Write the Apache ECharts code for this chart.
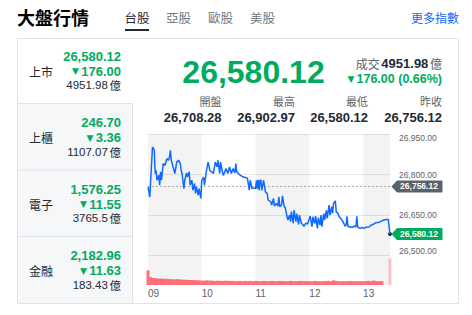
<!DOCTYPE html>
<html><head><meta charset="utf-8">
<script src="https://cdn.jsdelivr.net/npm/echarts@6/dist/echarts.min.js"></script>
<style>html,body{margin:0;padding:0;background:#fff;}#c{width:472px;height:315px;}</style>
</head><body><div id="c"></div>
<script>
// ---- data ----
const title = '大盤行情';
const tabs = ['台股','亞股','歐股','美股'];
const moreLink = '更多指數';
const markets = ['上市','上櫃','電子','金融'];
const marketPrice = ['26,580.12','246.70','1,576.25','2,182.96'];
const marketChange = ['176.00','3.36','11.55','11.63'];
const marketVolume = ['4951.98','1107.07','3765.5','183.43'];
const mainPrice = '26,580.12';
const mainVolume = '4951.98';
const mainChange = '176.00 (0.66%)';
const statLabels = ['開盤','最高','最低','昨收'];
const statValues = ['26,708.28','26,902.97','26,580.12','26,756.12'];
const prevClose = 26756.12;
const lastPrice = 26580.12;
const xTickLabels = ['09','10','11','12','13'];

// minutes after 09:00
const priceTimes = [0,2,3,5,7,8,9,10,12,13,14,15,17,19,21,23,24,25,26,28,30,32,34,36,37,38,40,41,43,44,46,47,49,50,52,53,54,56,57,59,60,62,63,65,67,69,71,73,75,77,78,80,81,83,84,87,89,91,93,95,97,98,99,102,106,110,111,113,114,116,118,120,121,122,123,124,125,126,127,129,131,133,134,137,138,140,141,143,145,146,147,149,150,152,153,154,156,158,159,160,162,163,165,166,168,169,171,173,174,176,178,181,183,184,186,187,189,190,192,193,194,196,197,199,200,202,203,205,206,207,209,210,212,213,216,218,220,221,222,223,226,228,230,232,233,234,237,239,241,243,247,249,252,254,258,261,265,268,270];
const priceValues = [26754,26717,26779,26902,26890,26804,26816,26779,26797,26761,26810,26779,26841,26834,26859,26853,26865,26890,26853,26828,26804,26846,26853,26841,26816,26804,26748,26779,26806,26791,26810,26761,26779,26742,26767,26730,26754,26724,26748,26712,26779,26791,26761,26810,26846,26816,26810,26804,26846,26828,26853,26804,26846,26810,26797,26822,26804,26828,26804,26822,26806,26841,26810,26800,26791,26788,26785,26742,26779,26748,26751,26748,26779,26748,26781,26742,26779,26779,26742,26779,26736,26730,26706,26699,26687,26712,26684,26693,26684,26718,26681,26687,26721,26681,26679,26663,26632,26650,26626,26663,26620,26669,26626,26656,26616,26650,26620,26614,26608,26620,26617,26646,26607,26644,26619,26646,26601,26641,26613,26650,26607,26656,26632,26668,26638,26687,26650,26681,26656,26693,26703,26662,26656,26646,26634,26622,26609,26613,26646,26609,26605,26605,26609,26607,26646,26605,26601,26605,26601,26605,26607,26613,26617,26622,26624,26629,26634,26634,26580.12];

const volTimes = [0,3,6,9,12,15,18,21,24,27,30,33,36,39,42,45,48,51,54,57,60,63,66,69,72,75,78,81,84,87,90,93,96,99,102,105,108,111,114,117,120,123,126,129,132,135,138,141,144,147,150,153,156,159,162,165,168,171,174,177,180,183,186,189,192,195,198,201,204,207,210,213,216,219,222,225,228,231,234,237,240,243,246,249,252,255,258,261,270];
const volValues = [50,27,24,23,22,22,21,21,20,20,19,20,19,18,18,17,17,17,16,16,15,15,16,15,15,14,15,14,14,15,14,14,14,13,14,13,14,13,14,13,14,13,13,14,13,13,14,13,13,14,13,13,13,14,13,13,13,14,13,13,13,13,14,13,13,13,13,14,13,16,14,13,13,13,13,14,13,13,13,13,13,13,14,13,15,13,13,13,90];

// ---- styles ----
const GREEN = '#00ab5e', DARK = '#232a31', GRAY = '#5b636a', LGRAY = '#6e7780', BLUE = '#0f69ff', BORDER = '#e0e4e9';
const NUM = '"Liberation Sans", Arial, "Noto Sans CJK TC", sans-serif';
const CJK = '"Noto Sans CJK TC", "Liberation Sans", sans-serif';

const el = [];
function txt(x, y, text, fill, size, weight, align, family, extra) {
  el.push(Object.assign({type:'text', x, y, silent:true, style:{text, fill, fontSize:size, fontWeight:weight||'normal', fontFamily:family||NUM, align:align||'left', verticalAlign:'middle'}}, extra||{}));
}
// header
txt(17, 17, title, '#000', 18, 'bold', 'left', CJK);
const tabX = [137, 178.5, 220.5, 262.5];
tabs.forEach((t,i)=> txt(tabX[i], 17, t, i===0?DARK:LGRAY, 12.5, 'normal', 'center', CJK));
el.push({type:'rect', shape:{x:125, y:29, width:24, height:2}, style:{fill:DARK}, silent:true});
txt(459, 17, moreLink, BLUE, 12, 'normal', 'right', CJK);

// panel
el.push({type:'rect', shape:{x:17.5, y:103.5, width:115, height:200}, style:{fill:'#f6f7f9'}, silent:true});
el.push({type:'rect', shape:{x:17.5, y:38.5, width:441, height:265}, style:{fill:'none', stroke:BORDER, lineWidth:1}, silent:true});
[103.5,170,236.5].forEach(y=> el.push({type:'line', shape:{x1:17.5,y1:y,x2:132.5,y2:y}, style:{stroke:BORDER, lineWidth:1}, silent:true}));
el.push({type:'line', shape:{x1:132.5,y1:103.5,x2:132.5,y2:303.5}, style:{stroke:BORDER, lineWidth:1}, silent:true});

markets.forEach((m,i)=>{
  const c = 71.25 + 66.5*i;
  txt(29, c, m, DARK, 12, 'normal', 'left', CJK);
  txt(121, c-15, marketPrice[i], GREEN, 13, 'bold', 'right');
  el.push({type:'text', x:121, y:c, silent:true, style:{text:'{t|▼} {n|'+marketChange[i]+'}', align:'right', verticalAlign:'middle', fontSize:8, fontFamily:NUM,
    rich:{t:{fill:GREEN, fontSize:9, fontFamily:'DejaVu Sans'}, n:{fill:GREEN, fontSize:13, fontWeight:'bold', fontFamily:NUM}}}});
  el.push({type:'text', x:121, y:c+14, silent:true, style:{text:'{n|'+marketVolume[i]+'} {u|億}', align:'right', verticalAlign:'middle', fontSize:6, fontFamily:NUM,
    rich:{n:{fill:DARK, fontSize:11.5, fontFamily:NUM}, u:{fill:DARK, fontSize:11.5, fontFamily:CJK}}}});
});

// main quote
txt(253.5, 72, mainPrice, GREEN, 32, 'bold', 'center');
el.push({type:'text', x:442, y:63, silent:true, style:{text:'{g|成交} {b|'+mainVolume+'} {g|億}', align:'right', verticalAlign:'middle', fontSize:6, fontFamily:NUM,
  rich:{g:{fill:GRAY, fontSize:12, fontFamily:CJK}, b:{fill:DARK, fontSize:13, fontWeight:'bold', fontFamily:NUM}}}});
el.push({type:'text', x:442, y:79, silent:true, style:{text:'{t|▼} {n|'+mainChange+'}', align:'right', verticalAlign:'middle', fontSize:8, fontFamily:NUM,
  rich:{t:{fill:GREEN, fontSize:9, fontFamily:'DejaVu Sans'}, n:{fill:GREEN, fontSize:12.5, fontWeight:'bold', fontFamily:NUM}}}});
const statX = [221.5, 295, 368, 442];
statLabels.forEach((s,i)=>{
  txt(statX[i], 101, s, GRAY, 11, 'normal', 'right', CJK);
  txt(statX[i], 117, statValues[i], DARK, 13, 'bold', 'right');
});

// ---- chart ----
const bands = [[0,60],[120,180],[240,270]];
const bandArea = {silent:true, itemStyle:{color:'rgba(0,0,0,0.048)'}, data: bands.map(b=>[{xAxis:b[0]},{xAxis:b[1]}])};
const tagPath = 'path://M0,6L5,0.5Q5.5,0,6.5,0L50,0Q51,0,51,1L51,11Q51,12,50,12L6.5,12Q5.5,12,5,11.5Z';

const chart = echarts.init(document.getElementById('c'), null, {renderer:'svg'});
chart.setOption({
  animation:false,
  graphic:{elements:el},
  grid:[
    {left:148, width:242, top:134, height:121.7},
    {left:148, width:242, top:255.7, height:29.3}
  ],
  xAxis:[
    {type:'value', gridIndex:0, min:0, max:270, show:false},
    {type:'value', gridIndex:1, min:0, max:270, interval:60,
     axisLine:{show:false}, axisTick:{show:false}, splitLine:{show:false},
     axisLabel:{show:true, showMaxLabel:false, align:'left', margin:3, fontSize:10, color:GRAY, fontFamily:NUM,
       formatter:v=> (v%60===0 && xTickLabels[v/60]!==undefined) ? xTickLabels[v/60] : ''}}
  ],
  yAxis:[
    {type:'value', gridIndex:0, position:'right', min:26500, max:26950, interval:150,
     axisLine:{show:false}, axisTick:{show:false},
     splitLine:{show:true, lineStyle:{color:'#e8e8e8', width:1}},
     axisLabel:{margin:9, fontSize:8.5, color:GRAY, fontFamily:NUM, verticalAlignMaxLabel:'top', verticalAlignMinLabel:'bottom',
       formatter:v=> v.toLocaleString('en-US',{minimumFractionDigits:2, maximumFractionDigits:2})}},
    {type:'value', gridIndex:1, min:0, max:100, show:false}
  ],
  series:[
    {type:'bar', xAxisIndex:1, yAxisIndex:1, barWidth:3,
     itemStyle:{color:'rgba(255,88,98,0.85)'},
     data: volTimes.map((t,i)=> i===volTimes.length-1 ? {value:[t,volValues[i]], itemStyle:{color:'rgba(255,88,98,0.35)'}} : [t,volValues[i]]),
     markArea: bandArea},
    {type:'line', xAxisIndex:0, yAxisIndex:0, showSymbol:false, z:5,
     lineStyle:{color:BLUE, width:1.5}, itemStyle:{color:BLUE},
     data: priceTimes.map((t,i)=>[t, priceValues[i]]),
     markArea: bandArea,
     markLine:{silent:true, symbol:['none','none'], label:{show:false},
       lineStyle:{type:[2,2], color:'#a8adb2', width:1},
       data:[{yAxis:prevClose}]},
     markPoint:{silent:true, data:[
       {coord:[270, prevClose], symbol:tagPath, symbolSize:[51,12], symbolOffset:[27,0], itemStyle:{color:GRAY},
        label:{show:true, position:'inside', offset:[2,0], color:'#fff', fontSize:8.5, fontWeight:'bold', fontFamily:NUM,
          formatter:()=> prevClose.toLocaleString('en-US',{minimumFractionDigits:2})}},
       {coord:[270, lastPrice], symbol:tagPath, symbolSize:[51,12], symbolOffset:[27,0], itemStyle:{color:GREEN},
        label:{show:true, position:'inside', offset:[2,0], color:'#fff', fontSize:8.5, fontWeight:'bold', fontFamily:NUM,
          formatter:()=> lastPrice.toLocaleString('en-US',{minimumFractionDigits:2})}},
       {coord:[270, lastPrice], symbol:'circle', symbolSize:4, itemStyle:{color:DARK}, label:{show:false}}
     ]}}
  ]
});
</script></body></html>
